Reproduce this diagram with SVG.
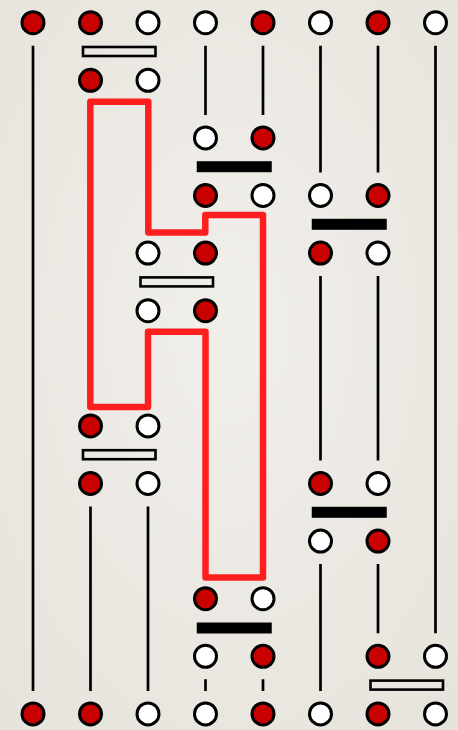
<svg xmlns="http://www.w3.org/2000/svg" width="458" height="730" viewBox="0 0 458 730">
<defs>
<radialGradient id="bg" cx="50%" cy="45%" r="75%">
<stop offset="0" stop-color="#F1EFEA"/>
<stop offset="1" stop-color="#E6E3DC"/>
</radialGradient>
<style>
.r{fill:#C80000;stroke:#000;stroke-width:3}
.w{fill:#FFF;stroke:#000;stroke-width:3}
.wire{stroke:#000;stroke-width:2.7;fill:none}
.open{fill:none;stroke:#000;stroke-width:2.6}
.bar{fill:#000}
.loop{fill:none;stroke:#FF1E1E;stroke-width:6.5;stroke-linejoin:round}
</style>
</defs>
<rect width="458" height="730" fill="url(#bg)"/>
<g id="connectors">
<path class="wire" d="M33,45.7V690.9 M90.5,506.5V690.9 M148,506.5V690.9 M205.5,45.7V114.9 M205.5,679.3V690.9 M263,45.7V114.9 M263,679.3V690.9 M320.5,45.7V172.5 M320.5,276.1V460.5 M320.5,564.1V690.9 M378,45.7V172.5 M378,276.1V460.5 M378,564.1V633.3 M435.5,45.7V633.3"/>
<path class="loop" d="M90.3,101.7H148.3V232.5H205.3V215H263V577.5H205.5V331.7H148V407H90.3Z"/>
</g>
<g id="gates">
<rect id="g1" class="open" x="83" y="47" width="72.5" height="9"/>
<rect id="g2" class="bar" x="196.75" y="161.2" width="75" height="11"/>
<rect id="g3" class="bar" x="311.75" y="218.8" width="75" height="11"/>
<rect id="g4" class="open" x="140.5" y="277.4" width="72.5" height="9"/>
<rect id="g5" class="open" x="83" y="450.2" width="72.5" height="9"/>
<rect id="g6" class="bar" x="311.75" y="506.8" width="75" height="11"/>
<rect id="g7" class="bar" x="196.75" y="622.5" width="75" height="11"/>
<rect id="g8" class="open" x="370.5" y="680.6" width="72.5" height="9"/>
</g>
<g id="row0">
<circle id="n0_0" class="r" cx="33" cy="22.7" r="11"/>
<circle id="n0_1" class="r" cx="90.5" cy="22.7" r="11"/>
<circle id="n0_2" class="w" cx="148" cy="22.7" r="11"/>
<circle id="n0_3" class="w" cx="205.5" cy="22.7" r="11"/>
<circle id="n0_4" class="r" cx="263" cy="22.7" r="11"/>
<circle id="n0_5" class="w" cx="320.5" cy="22.7" r="11"/>
<circle id="n0_6" class="r" cx="378" cy="22.7" r="11"/>
<circle id="n0_7" class="w" cx="435.5" cy="22.7" r="11"/>
</g>
<g id="row1">
<circle id="n1_1" class="r" cx="90.5" cy="80.3" r="11"/>
<circle id="n1_2" class="w" cx="148" cy="80.3" r="11"/>
</g>
<g id="row2">
<circle id="n2_3" class="w" cx="205.5" cy="137.9" r="11"/>
<circle id="n2_4" class="r" cx="263" cy="137.9" r="11"/>
</g>
<g id="row3">
<circle id="n3_3" class="r" cx="205.5" cy="195.5" r="11"/>
<circle id="n3_4" class="w" cx="263" cy="195.5" r="11"/>
<circle id="n3_5" class="w" cx="320.5" cy="195.5" r="11"/>
<circle id="n3_6" class="r" cx="378" cy="195.5" r="11"/>
</g>
<g id="row4">
<circle id="n4_2" class="w" cx="148" cy="253.1" r="11"/>
<circle id="n4_3" class="r" cx="205.5" cy="253.1" r="11"/>
<circle id="n4_5" class="r" cx="320.5" cy="253.1" r="11"/>
<circle id="n4_6" class="w" cx="378" cy="253.1" r="11"/>
</g>
<g id="row5">
<circle id="n5_2" class="w" cx="148" cy="310.7" r="11"/>
<circle id="n5_3" class="r" cx="205.5" cy="310.7" r="11"/>
</g>
<g id="row7">
<circle id="n7_1" class="r" cx="90.5" cy="425.9" r="11"/>
<circle id="n7_2" class="w" cx="148" cy="425.9" r="11"/>
</g>
<g id="row8">
<circle id="n8_1" class="r" cx="90.5" cy="483.5" r="11"/>
<circle id="n8_2" class="w" cx="148" cy="483.5" r="11"/>
<circle id="n8_5" class="r" cx="320.5" cy="483.5" r="11"/>
<circle id="n8_6" class="w" cx="378" cy="483.5" r="11"/>
</g>
<g id="row9">
<circle id="n9_5" class="w" cx="320.5" cy="541.1" r="11"/>
<circle id="n9_6" class="r" cx="378" cy="541.1" r="11"/>
</g>
<g id="row10">
<circle id="n10_3" class="r" cx="205.5" cy="598.7" r="11"/>
<circle id="n10_4" class="w" cx="263" cy="598.7" r="11"/>
</g>
<g id="row11">
<circle id="n11_3" class="w" cx="205.5" cy="656.3" r="11"/>
<circle id="n11_4" class="r" cx="263" cy="656.3" r="11"/>
<circle id="n11_6" class="r" cx="378" cy="656.3" r="11"/>
<circle id="n11_7" class="w" cx="435.5" cy="656.3" r="11"/>
</g>
<g id="row12">
<circle id="n12_0" class="r" cx="33" cy="713.9" r="11"/>
<circle id="n12_1" class="r" cx="90.5" cy="713.9" r="11"/>
<circle id="n12_2" class="w" cx="148" cy="713.9" r="11"/>
<circle id="n12_3" class="w" cx="205.5" cy="713.9" r="11"/>
<circle id="n12_4" class="r" cx="263" cy="713.9" r="11"/>
<circle id="n12_5" class="w" cx="320.5" cy="713.9" r="11"/>
<circle id="n12_6" class="r" cx="378" cy="713.9" r="11"/>
<circle id="n12_7" class="w" cx="435.5" cy="713.9" r="11"/>
</g>
</svg>
